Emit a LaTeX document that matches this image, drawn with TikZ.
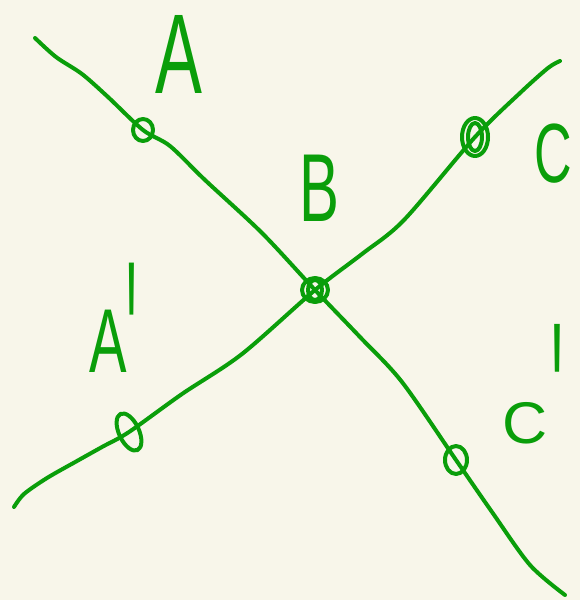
\documentclass[tikz,border=0pt]{standalone}
\usepackage{fontspec}
\usepackage{graphicx}
\setmainfont{Liberation Sans}
\definecolor{bg}{HTML}{F8F6EA}
\definecolor{ink}{HTML}{0A9E0A}
\newcommand{\farprime}[3]{\rlap{\hspace{#1}\smash{\raisebox{#2}{\scalebox{1}[#3]{\textquotesingle}}}}}
\begin{document}
\begin{tikzpicture}[x=1pt,y=-1pt,
  stroke/.style={draw=ink,line width=4pt,line cap=round,line join=round},
  lbl/.style={text=ink,font=\fontsize{84}{84}\selectfont,xscale=0.62,inner sep=0pt}]
\fill[bg] (0,0) rectangle (580,600);
\useasboundingbox (0,0) rectangle (580,600);
% free ends
\coordinate (e1) at (35,38);
\coordinate (e2) at (565,595);
\coordinate (e3) at (14,507);
\coordinate (e4) at (560,61);
% points
\coordinate (pA) at (143,130);
\coordinate (pB) at (315,290);
\coordinate (pC) at (475,137);
\coordinate (pA2) at (129,432);
\coordinate (pC2) at (456,460);
% lines
\draw[stroke] plot[smooth,tension=0.5] coordinates {(e1) (56,57) (82,74) (108,97) (pA) (170,146) (205,180) (262,233) (pB) (360,337) (402,382) (pC2) (492,512) (530,565) (e2)};
\draw[stroke] plot[smooth,tension=0.5] coordinates {(e3) (24,494) (47,478) (77,461) (102,447) (pA2) (182,394) (242,354) (pB) (362,254) (404,220) (pC) (520,93) (548,68) (e4)};
% circles
\draw[stroke] (pA) ellipse [x radius=10, y radius=11];
\draw[stroke] (pB) ellipse [x radius=13, y radius=12];
\draw[stroke] (pB) ellipse [x radius=7, y radius=10];
\draw[stroke] (pC) ellipse [x radius=13, y radius=19];
\draw[stroke] (pC) ellipse [x radius=7, y radius=14];
\draw[stroke,rotate around={25:(pA2)}] (pA2) ellipse [x radius=10, y radius=20];
\draw[stroke] (pC2) ellipse [x radius=11, y radius=14];
% labels
\node[lbl,scale=1.35] (A) at (179,54) {A};
\node[lbl,scale=1.15] (B) at (319,188) {B};
\node[lbl] (C) at (553,154) {C};
\node[lbl,scale=1.08] (A2) at (108,341) {A\farprime{0pt}{-52pt}{2.65}};
\node[lbl,xscale=1.2,yscale=0.7] (C2) at (525,423) {C\farprime{5pt}{-47pt}{3.76}};
\end{tikzpicture}
\end{document}
